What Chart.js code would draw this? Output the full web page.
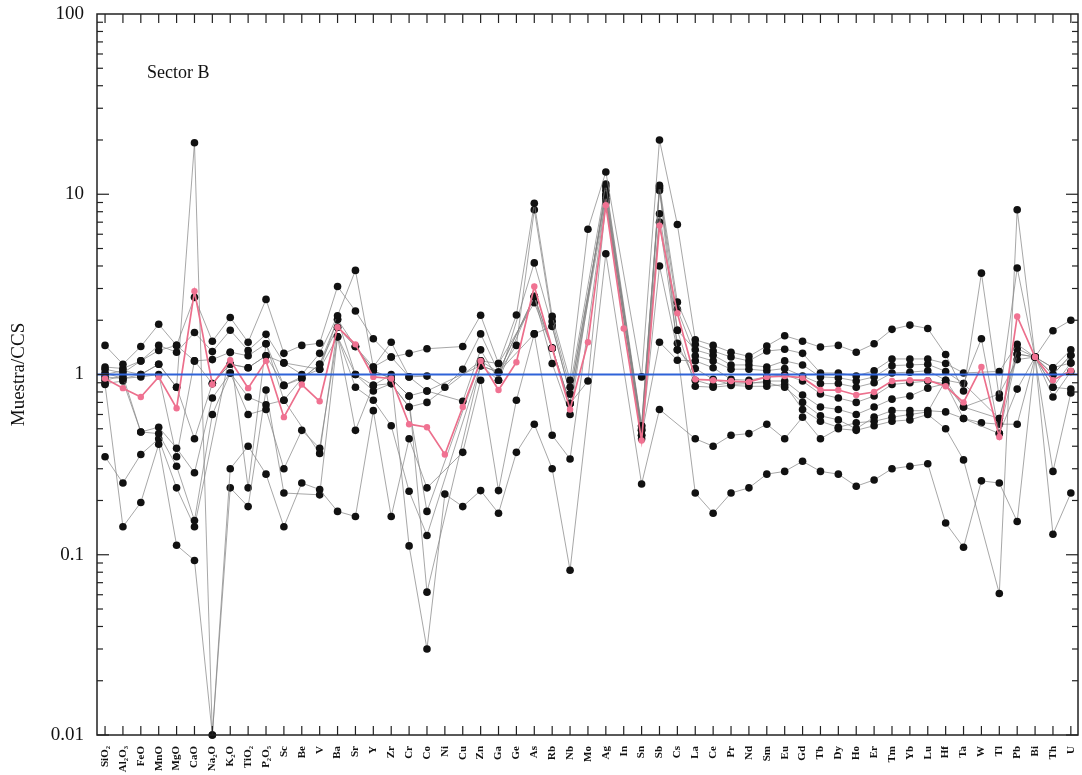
<!DOCTYPE html>
<html>
<head>
<meta charset="utf-8">
<script src="https://cdn.jsdelivr.net/npm/chart.js@4.4.1/dist/chart.umd.min.js"></script>
<style>
  html, body { margin: 0; padding: 0; background: #fff; }
  #wrap { width: 1082px; height: 775px; position: relative; }
</style>
</head>
<body>
<div id="wrap"><canvas id="spider"></canvas></div>
<script>
// elementos normalizados a la corteza continental superior (CCS)
const elements = ['SiO₂', 'Al₂O₃', 'FeO', 'MnO', 'MgO', 'CaO', 'Na₂O', 'K₂O', 'TiO₂', 'P₂O₅',
  'Sc', 'Be', 'V', 'Ba', 'Sr', 'Y', 'Zr', 'Cr', 'Co', 'Ni',
  'Cu', 'Zn', 'Ga', 'Ge', 'As', 'Rb', 'Nb', 'Mo', 'Ag', 'In',
  'Sn', 'Sb', 'Cs', 'La', 'Ce', 'Pr', 'Nd', 'Sm', 'Eu', 'Gd',
  'Tb', 'Dy', 'Ho', 'Er', 'Tm', 'Yb', 'Lu', 'Hf', 'Ta', 'W',
  'Tl', 'Pb', 'Bi', 'Th', 'U'];

const yTicks = [0.01, 0.1, 1, 10, 100];
const yLabels = ['0.01', '0.1', '1', '10', '100'];

const sample1 = [1.45, 1.14, 1.43, 1.90, 1.45, 2.68, 1.53, 2.07, 1.51, 2.61,
  1.31, 1.45, 1.49, 3.08, 2.25, 1.58, 1.25, 1.31, 1.39, null,
  1.43, 2.13, 1.15, 2.14, 8.9, 2.10, 0.93, 6.4, 13.3, null,
  0.97, 20, 6.8, 1.56, 1.45, 1.33, 1.26, 1.44, 1.64, 1.53,
  1.42, 1.45, 1.33, 1.48, 1.78, 1.88, 1.80, 1.29, 0.81, 3.65,
  0.74, 3.9, 1.25, 1.75, 2.0];
const sample2 = [1.10, 1.08, 1.19, 1.45, 1.33, 1.71, 1.34, 1.76, 1.36, 1.67,
  1.16, 1.00, 1.31, 2.12, 3.78, 1.10, 1.51, 0.97, 0.98, 0.85,
  1.07, 1.68, 1.03, 1.45, 8.2, 1.97, 0.85, null, 11.4, null,
  0.52, 11.2, 2.52, 1.47, 1.35, 1.25, 1.19, 1.35, 1.38, 1.31,
  1.02, 1.02, 0.98, 1.05, 1.22, 1.22, 1.22, 1.15, 1.02, null,
  1.04, 1.47, 1.25, 1.09, 1.37];
const sample3 = [1.07, 1.02, 1.19, 1.36, 1.45, 1.19, 1.21, 1.33, 1.27, 1.48,
  0.87, 0.95, 1.14, 2.02, 1.43, 1.05, 0.95, 0.76, 0.81, null,
  0.71, 1.37, 0.93, null, 4.16, 1.85, 0.78, null, 9.9, null,
  0.49, 7.8, 1.76, 1.37, 1.28, 1.13, 1.13, 1.10, 1.19, 1.13,
  0.97, 0.96, 0.92, 0.97, 1.12, 1.13, 1.14, 1.04, 0.89, null,
  0.57, 1.39, 1.25, 1.0, 1.28];
const sample4 = [1.02, 0.95, 1.00, 1.14, 0.85, 0.44, 0.89, 1.14, 1.09, 1.27,
  1.16, null, 1.07, 1.62, 1.00, 0.87, 0.89, 0.66, 0.70, null,
  null, 1.19, 1.03, null, 2.71, 1.40, 0.69, null, 9.2, null,
  0.46, 10.5, 2.3, 1.27, 1.19, 1.07, 1.07, 1.05, 1.08, 0.98,
  0.89, 0.89, 0.85, 0.90, 1.02, 1.03, 1.05, 0.93, 0.89, 1.58,
  0.47, 1.30, 1.25, 0.85, 1.16];
const sample5 = [0.93, 0.98, 0.48, 0.51, 0.39, 0.285, 0.74, 1.02, 0.60, 0.64,
  0.30, 0.49, 0.39, 1.62, 0.85, 0.72, 0.52, 0.225, 0.128, null,
  null, 1.12, 1.03, null, 2.71, 1.40, 0.69, 0.92, 9.0, null,
  0.46, 1.51, 1.2, 1.19, 1.09, 0.94, 0.93, 0.97, 1.00, 0.92,
  0.78, 0.74, 0.70, 0.76, 0.88, 0.90, 0.92, 0.89, 0.66, null,
  0.78, 1.21, 1.25, 0.75, 1.04];
const sample6 = [1.00, 1.05, 1.00, 1.14, 0.85, 19.3, 0.01, 0.30, 0.40, 0.28,
  0.143, 0.25, 0.23, 0.174, 0.163, 0.63, 0.163, 0.44, 0.235, null,
  0.37, 0.93, 0.227, 0.72, 1.68, 0.46, 0.34, null, 9.5, null,
  0.44, 4.0, 1.37, 1.08, 0.94, 0.88, 0.89, 0.92, 0.92, 0.77,
  0.66, 0.64, 0.60, 0.66, 0.73, 0.76, 0.84, 0.89, 0.57, null,
  0.47, 0.83, 1.25, 1.0, 1.28];
const sample7 = [0.89, 0.92, 0.48, 0.47, 0.31, 0.155, 0.60, 1.02, 0.75, 0.68,
  0.72, null, 0.365, 1.83, 1.43, 1.05, 0.95, 0.76, 0.062, null,
  null, 1.12, 0.93, null, 2.71, 1.15, 0.60, null, 11.0, null,
  0.49, 7.0, 1.49, 0.93, 0.87, 0.90, 0.90, 0.90, 0.85, 0.70,
  0.59, 0.56, 0.50, 0.58, 0.63, 0.63, 0.63, 0.62, 0.57, 0.54,
  0.53, 0.53, 1.25, 0.85, 0.83];
const sample8 = [0.97, 0.95, 0.97, 1.00, 0.35, 1.19, 0.89, 1.14, 1.09, 1.27,
  0.87, 0.97, 1.07, 2.02, 1.00, 0.81, 0.89, 0.66, 0.174, null,
  null, 1.19, 1.15, null, 2.5, 1.40, 0.69, null, 10.5, null,
  0.50, 11.0, 1.76, 0.86, 0.85, 0.87, 0.86, 0.86, 0.88, 0.64,
  0.55, 0.51, 0.54, 0.55, 0.58, 0.60, 0.62, 0.93, 0.66, null,
  0.57, 1.30, 1.25, 1.09, 1.16];
const sample9 = [0.88, 0.143, 0.195, 0.41, 0.113, 0.093, 0.01, 0.235, 0.185, 0.82,
  0.22, null, 0.215, 1.62, 0.49, 0.87, 1.00, 0.112, 0.030, 0.217,
  0.185, 0.227, 0.17, 0.37, 0.53, 0.30, 0.082, null, 4.68, null,
  0.247, 0.64, null, 0.44, 0.40, 0.46, 0.47, 0.53, 0.44, 0.58,
  0.44, 0.50, 0.49, 0.52, 0.55, 0.56, 0.60, 0.50, 0.336, null,
  0.061, 8.2, 1.25, 0.29, 0.79];
const sample10 = [0.35, 0.25, 0.36, 0.44, 0.235, 0.143, null, 1.33, 0.235, 1.48,
  0.72, 0.95, 1.14, 1.83, 1.43, 1.10, 1.25, 0.97, 0.81, null,
  null, 1.12, 1.03, null, 1.68, 1.85, 0.78, null, 9.9, null,
  0.52, 10.8, 1.37, 0.22, 0.17, 0.22, 0.235, 0.28, 0.29, 0.33,
  0.29, 0.28, 0.24, 0.26, 0.30, 0.31, 0.32, 0.15, 0.11, 0.257,
  0.25, 0.153, 1.25, 0.13, 0.22];
const promedio = [0.95, 0.84, 0.75, 0.97, 0.65, 2.9, 0.88, 1.20, 0.84, 1.19,
  0.58, 0.88, 0.71, 1.83, 1.47, 0.97, 0.95, 0.53, 0.51, 0.36,
  0.66, 1.19, 0.82, 1.17, 3.08, 1.40, 0.64, 1.51, 8.7, 1.80,
  0.43, 6.7, 2.19, 0.94, 0.93, 0.92, 0.91, 0.97, 0.98, 0.96,
  0.82, 0.82, 0.77, 0.80, 0.92, 0.93, 0.93, 0.86, 0.70, 1.10,
  0.45, 2.10, 1.25, 0.93, 1.05];

const samples = [sample1, sample2, sample3, sample4, sample5,
  sample6, sample7, sample8, sample9, sample10];

const SERIF = '"Liberation Serif", "Times New Roman", serif';

function toPoints(arr) {
  return arr.map((v, i) => ({ x: i, y: v }));
}

const datasets = [{
  label: 'Promedio',
  data: toPoints(promedio),
  borderColor: '#ec6f8c',
  borderWidth: 1.7,
  pointRadius: 3.2,
  pointBackgroundColor: '#f07292',
  pointBorderColor: '#f07292',
  pointBorderWidth: 0,
  spanGaps: true,
  order: 0,
  clip: 8
}];
samples.forEach((s, k) => {
  datasets.push({
    label: 'M' + (k + 1),
    data: toPoints(s),
    borderColor: 'rgba(130,130,130,0.7)',
    borderWidth: 1,
    pointRadius: 3.8,
    pointBackgroundColor: '#111',
    pointBorderColor: '#111',
    pointBorderWidth: 0,
    spanGaps: true,
    order: 1,
    clip: 8
  });
});

const frame = {
  id: 'frame',
  afterDatasetsDraw(chart) {
    const { ctx, chartArea: a, scales: { x, y } } = chart;
    const line = (x1, y1, x2, y2) => {
      ctx.beginPath(); ctx.moveTo(x1, y1); ctx.lineTo(x2, y2); ctx.stroke();
    };
    ctx.save();
    // linea de referencia = 1
    const y1 = y.getPixelForValue(1);
    ctx.strokeStyle = '#2f63d8';
    ctx.lineWidth = 2;
    line(a.left, y1, a.right, y1);

    ctx.strokeStyle = '#222';
    ctx.lineWidth = 1.5;
    ctx.strokeRect(a.left, a.top, a.right - a.left, a.bottom - a.top);

    ctx.lineWidth = 1.2;
    elements.forEach((_, i) => {
      const px = x.getPixelForValue(i);
      line(px, a.bottom, px, a.bottom - 9);
      line(px, a.top, px, a.top + 9);
    });
    for (let d = -2; d < 2; d++) {
      for (let m = 1; m <= 9; m++) {
        const py = y.getPixelForValue(m * Math.pow(10, d));
        const len = m === 1 ? 12 : 6;
        line(a.left, py, a.left + len, py);
        line(a.right, py, a.right - len, py);
      }
    }

    ctx.fillStyle = '#111';
    ctx.font = '18px ' + SERIF;
    ctx.textBaseline = 'alphabetic';
    ctx.fillText('Sector B', a.left + 50, a.top + 64);
    ctx.restore();
  }
};

new Chart(document.getElementById('spider'), {
  type: 'line',
  data: { datasets },
  options: {
    responsive: true,
    maintainAspectRatio: false,
    animation: false,
    layout: { padding: { top: 14, right: 1, left: 0, bottom: 0 } },
    plugins: { legend: { display: false }, tooltip: { enabled: false } },
    scales: {
      x: {
        type: 'linear',
        min: -0.45,
        max: 54.4,
        grid: { display: false },
        border: { display: false },
        afterBuildTicks: ax => { ax.ticks = elements.map((_, i) => ({ value: i })); },
        afterFit: ax => { ax.height = 40; ax.paddingLeft = 0; ax.paddingRight = 0; },
        ticks: {
          autoSkip: false,
          minRotation: 90,
          maxRotation: 90,
          padding: 3,
          color: '#111',
          font: { family: SERIF, size: 11, weight: 'bold' },
          callback: v => elements[v]
        }
      },
      y: {
        type: 'logarithmic',
        min: 0.01,
        max: 100,
        grid: { display: false },
        border: { display: false },
        afterBuildTicks: ax => { ax.ticks = yTicks.map(v => ({ value: v })); },
        afterFit: ax => { ax.width = 97; ax.paddingTop = 0; ax.paddingBottom = 0; },
        ticks: {
          padding: 5,
          color: '#111',
          font: { family: SERIF, size: 19 },
          callback: v => yLabels[yTicks.indexOf(v)]
        },
        title: {
          display: true,
          text: 'Muestra/CCS',
          color: '#111',
          padding: 8,
          font: { family: SERIF, size: 19 }
        }
      }
    }
  },
  plugins: [frame]
});
</script>
</body>
</html>
